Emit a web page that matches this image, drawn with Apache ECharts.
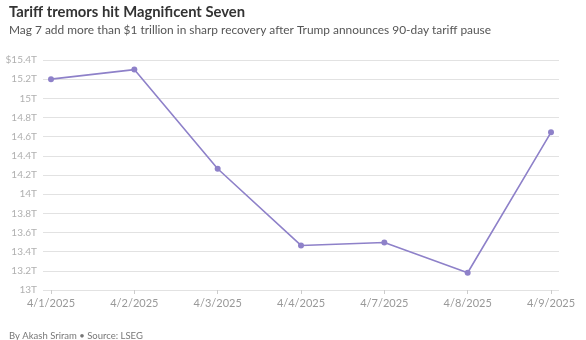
<!DOCTYPE html>
<html>
<head>
<meta charset="utf-8">
<script src="https://cdn.jsdelivr.net/npm/echarts@6/dist/echarts.min.js"></script>
<style>
html,body{margin:0;padding:0;background:#fff;}
#c{width:586px;height:340px;}
</style>
</head>
<body>
<div id="c"></div>
<script>
var categories = ['4/1/2025','4/2/2025','4/3/2025','4/4/2025','4/7/2025','4/8/2025','4/9/2025'];
var marketCap = [15.20, 15.30, 14.265, 13.465, 13.495, 13.18, 14.645];
var yMin = 13, yMax = 15.4, yStep = 0.2;

var titleText = 'Tariff tremors hit Magnificent Seven';
var subtitleText = 'Mag 7 add more than $1 trillion in sharp recovery after Trump announces 90-day tariff pause';
var footerText = 'By Akash Sriram \u2022 Source: LSEG';

var FONT = 'Lato';
var chart = echarts.init(document.getElementById('c'), null, {renderer:'canvas'});
chart.setOption({
  animation:false,
  backgroundColor:'#fff',
  title:[
    {text:titleText, left:4, top:0, textStyle:{fontFamily:FONT, fontSize:14.8, fontWeight:'bold', color:'#333'}},
    {text:subtitleText, left:4, top:19, textStyle:{fontFamily:FONT, fontSize:11.9, fontWeight:'normal', color:'#555'}},
    {text:footerText, left:4, top:326, textStyle:{fontFamily:FONT, fontSize:9.5, fontWeight:'normal', color:'#777'}}
  ],
  grid:[
    {left:43, right:27, top:60, bottom:50, containLabel:false},
    {left:51, right:35, top:60, bottom:50, containLabel:false}
  ],
  xAxis:[
    {gridIndex:0, type:'value', min:0, max:1, show:false},
    {gridIndex:1, type:'category', data:categories, boundaryGap:false,
     axisLine:{show:false},
     axisTick:{show:true, length:4, lineStyle:{color:'#ccc'}},
     axisLabel:{fontFamily:FONT, fontSize:11, color:'#999', margin:8},
     splitLine:{show:false}}
  ],
  yAxis:[
    {gridIndex:0, type:'value', min:yMin, max:yMax, interval:yStep,
     axisLine:{show:false}, axisTick:{show:false},
     axisLabel:{fontFamily:FONT, fontSize:10, color:'#b0b0b0', margin:6,
       formatter:function(v){ var s = (+v.toFixed(1)) + 'T'; return Math.abs(v-yMax)<1e-6 ? '$'+s : s; }},
     splitLine:{lineStyle:{color:'#e2e2e2', width:1}}},
    {gridIndex:1, type:'value', min:yMin, max:yMax, show:false, splitLine:{show:false}}
  ],
  series:[
    {type:'line', xAxisIndex:1, yAxisIndex:1, data:marketCap,
     symbol:'circle', symbolSize:6, showSymbol:true,
     lineStyle:{color:'#8e81c9', width:1.6},
     itemStyle:{color:'#8e81c9'}}
  ]
});
</script>
</body>
</html>
